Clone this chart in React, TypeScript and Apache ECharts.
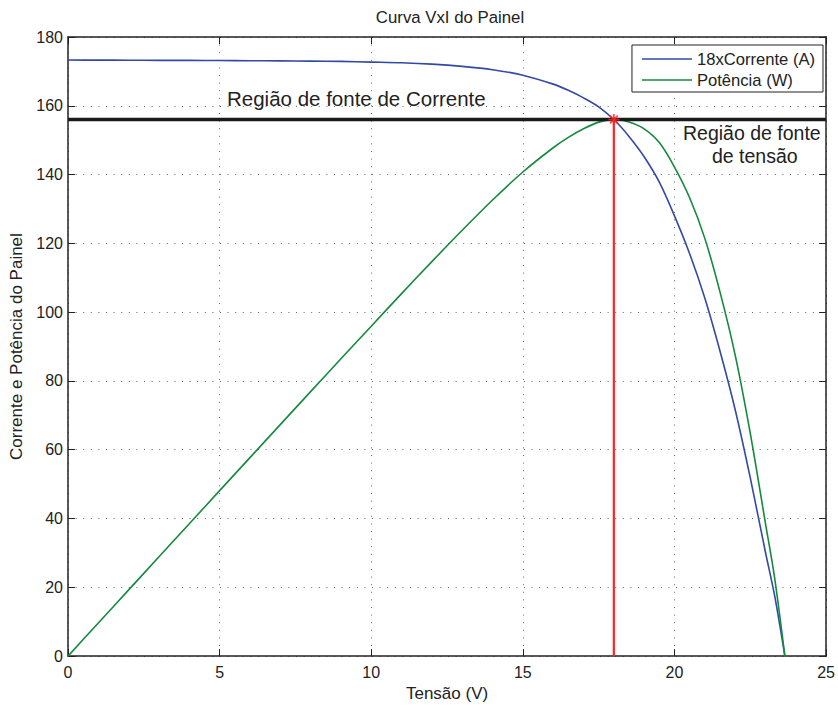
import React, { useEffect, useRef } from "react";
import * as echarts from "echarts";

// Tensão (V)
const voltage = [
  0, 1, 2, 3, 4, 5, 6, 7, 8, 9, 10, 11, 12, 13, 14, 15, 16, 16.5, 17, 17.5, 18,
  18.5, 19, 19.5, 20, 20.5, 21, 21.5, 22, 22.5, 23, 23.3, 23.64,
];
// 18 x Corrente (A)
const current18 = [
  173.3, 173.28, 173.26, 173.2, 173.2, 173.15, 173.1, 173.05, 173.0, 172.9, 172.7,
  172.5, 172.1, 171.45, 170.5, 168.9, 166.3, 164.5, 162.3, 159.7, 156.0, 151.1,
  145.2, 137.8, 128.0, 117.0, 104.1, 88.7, 71.7, 51.8, 30.2, 17.7, 0,
];
// Potência (W)
const power = [
  0, 9.63, 19.25, 28.87, 38.49, 48.1, 57.7, 67.3, 76.9, 86.45, 95.9, 105.4, 114.7,
  123.8, 132.6, 140.75, 147.8, 150.8, 153.3, 155.25, 156.0, 155.3, 153.3, 149.3,
  142.2, 133.25, 121.45, 105.9, 87.6, 64.75, 38.6, 22.9, 0,
];
const limitLevel = 156; // linha horizontal preta
const mppVoltage = 18; // linha vertical vermelha
const seriesNames = ["18xCorrente (A)", "Potência (W)"];

const FONT = "'Liberation Sans', Arial, Helvetica, sans-serif";
const ASTERISK =
  "path://M-1,-6L1,-6L1,6L-1,6Z M-6,-1L6,-1L6,1L-6,1Z M-4.9,-3.5L-3.5,-4.9L4.9,3.5L3.5,4.9Z M3.5,-4.9L4.9,-3.5L-3.5,4.9L-4.9,3.5Z";

export default function App() {
  const ref = useRef<HTMLDivElement>(null);
  useEffect(() => {
    document.body.style.margin = "0";
    if (!ref.current) return;
    const chart = echarts.init(ref.current, undefined, { renderer: "svg" });
    const tick = { show: true, inside: true, length: 7, lineStyle: { color: "#222", width: 1 } };
    const axLine = { show: true, onZero: false, lineStyle: { color: "#222", width: 1.5 } };
    const dotted = { show: true, lineStyle: { color: "#666", width: 1, type: [1, 6.6] as any } };
    chart.setOption({
      animation: false,
      backgroundColor: "#fff",
      textStyle: { fontFamily: FONT },
      grid: { left: 68, right: 9, top: 37, bottom: 46, containLabel: false },
      legend: {
        data: seriesNames,
        orient: "vertical",
        right: 15,
        top: 45,
        backgroundColor: "#fff",
        borderColor: "#222",
        borderWidth: 1,
        borderRadius: 0,
        padding: [5, 8, 3, 10],
        itemGap: 3,
        itemWidth: 50,
        itemHeight: 1.6,
        icon: "rect",
        textStyle: { fontSize: 16.6, color: "#222", fontFamily: FONT, lineHeight: 18 },
      },
      xAxis: [
        {
          type: "value",
          min: 0,
          max: 25,
          interval: 5,
          position: "bottom",
          name: "Tensão (V)",
          nameLocation: "middle",
          nameGap: 24,
          nameTextStyle: { fontSize: 17, color: "#222", fontFamily: FONT },
          axisLine: axLine,
          axisTick: tick,
          axisLabel: { fontSize: 16, color: "#222", margin: 8, fontFamily: FONT },
          splitLine: dotted,
        },
        {
          type: "value",
          min: 0,
          max: 25,
          interval: 5,
          position: "top",
          axisLine: axLine,
          axisTick: tick,
          axisLabel: { show: false },
          splitLine: { show: false },
        },
      ],
      yAxis: [
        {
          type: "value",
          min: 0,
          max: 180,
          interval: 20,
          position: "left",
          name: "Corrente e Potência do Painel",
          nameLocation: "middle",
          nameGap: 42,
          nameTextStyle: { fontSize: 17, color: "#222", fontFamily: FONT },
          axisLine: axLine,
          axisTick: tick,
          axisLabel: { fontSize: 16, color: "#222", margin: 5, fontFamily: FONT },
          splitLine: dotted,
        },
        {
          type: "value",
          min: 0,
          max: 180,
          interval: 20,
          position: "right",
          axisLine: axLine,
          axisTick: tick,
          axisLabel: { show: false },
          splitLine: { show: false },
        },
      ],
      graphic: [
        {
          type: "text",
          x: 450,
          y: 9,
          style: {
            text: "Curva VxI do Painel",
            fontSize: 16.8,
            fill: "#222",
            fontFamily: FONT,
            align: "center",
          },
        },
        {
          type: "text",
          x: 227,
          y: 88,
          style: { text: "Região de fonte de Corrente", fontSize: 20.5, fill: "#222", fontFamily: FONT },
        },
        {
          type: "text",
          x: 683,
          y: 123,
          style: { text: "Região de fonte", fontSize: 19.5, fill: "#222", fontFamily: FONT },
        },
        {
          type: "text",
          x: 712,
          y: 146,
          style: { text: "de tensão", fontSize: 19.5, fill: "#222", fontFamily: FONT },
        },
      ],
      series: [
        {
          name: seriesNames[0],
          type: "line",
          data: voltage.map((v, i) => [v, current18[i]]),
          showSymbol: false,
          smooth: 0.3,
          lineStyle: { color: "#3349a6", width: 1.6 },
          itemStyle: { color: "#3349a6" },
          z: 3,
        },
        {
          name: seriesNames[1],
          type: "line",
          data: voltage.map((v, i) => [v, power[i]]),
          showSymbol: false,
          smooth: 0.3,
          lineStyle: { color: "#138a3e", width: 1.6 },
          itemStyle: { color: "#138a3e" },
          z: 3,
        },
        {
          name: "limite",
          type: "line",
          data: [
            [0, limitLevel],
            [25, limitLevel],
          ],
          showSymbol: false,
          lineStyle: { color: "#1a1a1a", width: 3.5 },
          silent: true,
          z: 4,
        },
        {
          name: "mpp",
          type: "line",
          data: [
            [mppVoltage, 0],
            [mppVoltage, limitLevel],
          ],
          showSymbol: false,
          lineStyle: { color: "#ff2222", width: 2.2 },
          silent: true,
          z: 5,
        },
        {
          name: "ponto",
          type: "scatter",
          data: [[mppVoltage, limitLevel]],
          symbol: ASTERISK,
          symbolSize: 11,
          itemStyle: { color: "#ff2222" },
          silent: true,
          z: 6,
        },
      ],
    });
    return () => chart.dispose();
  }, []);
  return <div ref={ref} style={{ width: 838, height: 707 }} />;
}
